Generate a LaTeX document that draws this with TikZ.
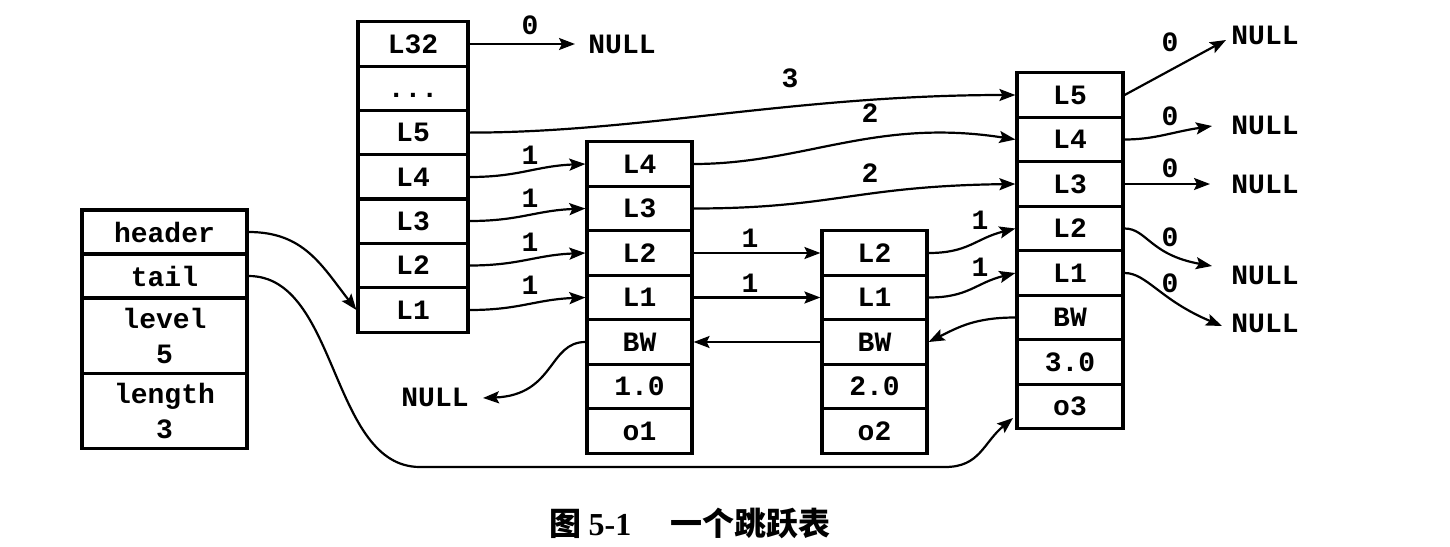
\documentclass[tikz,border=0pt]{standalone}
\usepackage{fontspec}
\setmainfont{Liberation Serif}
\setmonofont{Liberation Mono}
\newfontfamily\cjk{Noto Sans CJK SC}
\usetikzlibrary{arrows.meta}
\tikzset{
  cell/.style={draw, line width=1.6pt, inner sep=0pt, align=center,
    font=\ttfamily\bfseries\fontsize{14}{17.5}\selectfont},
  scell/.style={cell, minimum width=82.5pt, minimum height=22pt},
  tcell/.style={cell, minimum width=82.5pt, minimum height=37.5pt},
  hcell/.style={cell, minimum width=55pt, minimum height=22.2pt},
  ncell/.style={cell, minimum width=52.5pt, minimum height=22.2pt},
  lab/.style={font=\ttfamily\bfseries\fontsize{14}{15}\selectfont, inner sep=1pt},
  arr/.style={line width=1.1pt, -{Stealth[length=8pt,width=6pt,inset=1.5pt]}},
}
\begin{document}
\begin{tikzpicture}[x=0.5pt,y=-0.5pt]
\useasboundingbox (0,0) rectangle (1450,546);
% struct
\node[scell] (header) at (164.5,232) {header};
\node[scell] (tail) at (164.5,276) {tail};
\node[tcell] (level) at (164.5,336) {level\\5};
\node[tcell] (length) at (164.5,411) {length\\3};
% header column
\node[hcell] (h32) at (413,44) {L32};
\node[hcell] (hd) at (413,88.3) {\vphantom{L}...};
\node[hcell] (h5) at (413,132.6) {L5};
\node[hcell] (h4) at (413,177) {L4};
\node[hcell] (h3) at (413,221) {L3};
\node[hcell] (h2) at (413,265.5) {L2};
\node[hcell] (h1) at (413,310) {L1};
% node o1
\node[ncell] (a4) at (639.5,164) {L4};
\node[ncell] (a3) at (639.5,208.5) {L3};
\node[ncell] (a2) at (639.5,253) {L2};
\node[ncell] (a1) at (639.5,297.5) {L1};
\node[ncell] (abw) at (639.5,342) {BW};
\node[ncell] (asc) at (639.5,386.5) {1.0};
\node[ncell] (aob) at (639.5,431) {o1};
% node o2
\node[ncell] (b2) at (874.5,253) {L2};
\node[ncell] (b1) at (874.5,297.5) {L1};
\node[ncell] (bbw) at (874.5,342) {BW};
\node[ncell] (bsc) at (874.5,386.5) {2.0};
\node[ncell] (bob) at (874.5,431) {o2};
% node o3
\node[ncell, minimum width=53pt] (c5) at (1070,95) {L5};
\node[ncell, minimum width=53pt] (c4) at (1070,139.5) {L4};
\node[ncell, minimum width=53pt] (c3) at (1070,184) {L3};
\node[ncell, minimum width=53pt] (c2) at (1070,228.5) {L2};
\node[ncell, minimum width=53pt] (c1) at (1070,273) {L1};
\node[ncell, minimum width=53pt] (cbw) at (1070,317.5) {BW};
\node[ncell, minimum width=53pt] (csc) at (1070,362) {3.0};
\node[ncell, minimum width=53pt] (cob) at (1070,406.5) {o3};
% NULL texts
\node[lab] (n32) at (622,44) {NULL};
\node[lab] (nbw) at (435,397) {NULL};
\node[lab] (n5) at (1265,35) {NULL};
\node[lab] (n4) at (1265,125) {NULL};
\node[lab] (n3) at (1265,184) {NULL};
\node[lab] (n2) at (1265,275) {NULL};
\node[lab] (n1) at (1265,323) {NULL};
\coordinate (t32) at (575,44);
\coordinate (tbw) at (483,398);
\coordinate (t5) at (1226,40);
\coordinate (t4) at (1212,126);
\coordinate (t3) at (1210,184);
\coordinate (t2) at (1212,266);
\coordinate (t1) at (1222,326);
\coordinate (tob) at (1013,418);
% labels
\node[lab] at (530,25) {0};
\node[lab] at (790,78) {3};
\node[lab] at (870,113) {2};
\node[lab] at (870,173) {2};
\node[lab] at (530,155) {1};
\node[lab] at (530,198) {1};
\node[lab] at (530,242) {1};
\node[lab] at (530,285) {1};
\node[lab] at (750,238) {1};
\node[lab] at (750,283) {1};
\node[lab] at (980,220) {1};
\node[lab] at (980,267) {1};
\node[lab] at (1170,42) {0};
\node[lab] at (1170,116) {0};
\node[lab] at (1170,168) {0};
\node[lab] at (1170,237) {0};
\node[lab] at (1170,283) {0};
% connectors
\draw[arr] (h32.east) -- (t32);
\draw[arr] (h5.east) .. controls +(170,0) and +(-220,0) .. (c5.west);
\draw[arr] (h4.east) .. controls +(50,0) and +(-50,2) .. (a4.west);
\draw[arr] (h3.east) .. controls +(50,0) and +(-50,2) .. (a3.west);
\draw[arr] (h2.east) .. controls +(50,0) and +(-50,2) .. (a2.west);
\draw[arr] (h1.east) .. controls +(50,0) and +(-50,2) .. (a1.west);
\draw[arr] (a4.east) .. controls +(110,0) and +(-140,-22) .. (c4.west);
\draw[arr] (a3.east) .. controls +(140,0) and +(-160,2) .. (c3.west);
\draw[arr] (a2.east) -- (b2.west);
\draw[arr] (a1.east) -- (b1.west);
\draw[arr] (b2.east) .. controls +(40,0) and +(-40,10) .. (c2.west);
\draw[arr] (b1.east) .. controls +(40,0) and +(-40,10) .. (c1.west);
\draw[arr] (bbw.west) -- (abw.east);
\draw[arr] (cbw.west) .. controls +(-40,0) and +(30,-15) .. (bbw.east);
\draw[arr] (abw.west) .. controls +(-37,0) and +(72,-3) .. (tbw);
\draw[arr] (c5.east) -- (t5);
\draw[arr] (c4.east) .. controls +(30,0) and +(-40,6) .. (t4);
\draw[arr] (c3.east) -- (t3);
\draw[arr] (c2.east) .. controls +(22,0) and +(-62,-11) .. (t2);
\draw[arr] (c1.east) .. controls +(22,0) and +(-62,-26) .. (t1);
\draw[arr] (header.east) .. controls +(55,0) and +(-35,-45) .. (h1.west);
\draw[arr] (tail.east) .. controls +(90,0) and +(-90,0) .. (420,467)
  -- (945,467) .. controls +(35,0) and +(-30,25) .. (tob);
% caption
\node (cap) at (690,523) {\cjk\bfseries\fontsize{16}{18}\selectfont 图\ {\rmfamily\bfseries 5-1}\quad\ 一个跳跃表};
\end{tikzpicture}
\end{document}
